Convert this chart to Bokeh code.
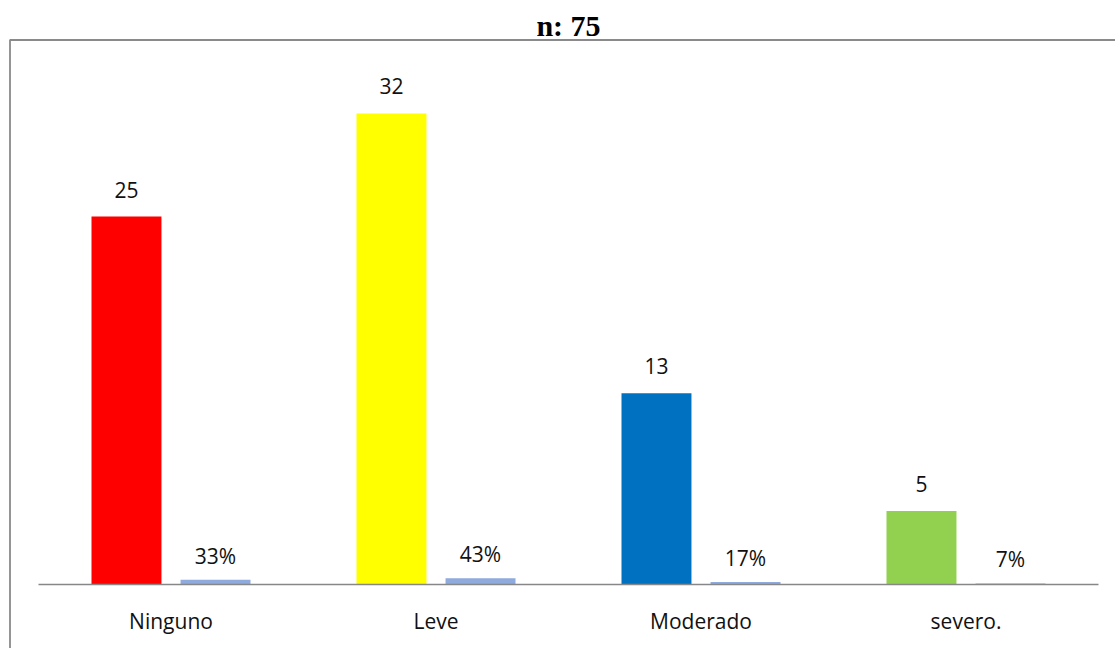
from bokeh.plotting import figure
from bokeh.models import Range1d
from bokeh.embed import file_html
from bokeh.resources import INLINE
from bokeh.core.properties import value

# ---- data ----
categories = ["Ninguno", "Leve", "Moderado", "severo."]
counts = [25, 32, 13, 5]
percents = [0.33, 0.43, 0.17, 0.07]
percent_labels = ["33%", "43%", "17%", "7%"]
bar_colors = ["#FF0000", "#FFFF00", "#0070C0", "#92D050"]
pct_color = "#8FAADC"
title_text = "n: 75"

# ---- layout constants (pixels) ----
W, H = 1115, 648
PX_PER_CAT = 265.0
PX_PER_UNIT = 14.72
LEFT_PAD = 38
RIGHT_PAD = 17
BASE_Y = 584          # distance of the baseline from the top of the canvas
n = len(categories)

x_range = Range1d(-LEFT_PAD / PX_PER_CAT, n + RIGHT_PAD / PX_PER_CAT)
y_range = Range1d(-(H - BASE_Y) / PX_PER_UNIT, BASE_Y / PX_PER_UNIT)

p = figure(width=W, height=H, x_range=x_range, y_range=y_range,
           output_backend="svg", toolbar_location=None,
           min_border=0, min_border_left=0, min_border_right=0,
           min_border_top=0, min_border_bottom=0)
p.axis.visible = False
p.grid.visible = False
p.outline_line_color = None
p.background_fill_color = "white"
p.border_fill_color = "white"

centers = [i + 0.5 for i in range(n)]
OFF = 0.168
BW = 0.264
x_count = [c - OFF for c in centers]
x_pct = [c + OFF for c in centers]

# outer box (left and top edges only visible in the reference)
xl = (9.5 - LEFT_PAD) / PX_PER_CAT
yt = (BASE_Y - 39.5) / PX_PER_UNIT
p.line(x=[x_range.end + 1, xl, xl], y=[yt, yt, y_range.start - 1],
       line_color="#8a8a8a", line_width=1.8)

# bars
p.vbar(x=x_count, top=counts, bottom=0, width=BW, fill_color=bar_colors, line_color=None)
p.vbar(x=x_pct, top=percents, bottom=0, width=BW, fill_color=pct_color, line_color=None)

# category axis line
p.segment(x0=[0], y0=[0], x1=[n], y1=[0], line_color="#878787", line_width=1.6)

FONT = value("Open Sans")
# value labels
p.text(x=x_count, y=counts, text=[str(c) for c in counts], text_align="center",
       text_baseline="middle", y_offset=-27, text_font=FONT,
       text_font_size="21px", text_color="#111111")
p.text(x=x_pct, y=percents, text=percent_labels, text_align="center",
       text_baseline="middle", y_offset=-24, text_font=FONT,
       text_font_size="21px", text_color="#111111")

# category labels
p.text(x=centers, y=[0] * n, text=categories, text_align="center",
       text_baseline="middle", y_offset=36, text_font=FONT,
       text_font_size="21px", text_color="#111111")

# title
p.text(x=[n / 2], y=[0], text=[title_text], text_align="center",
       text_baseline="middle", y_offset=-(BASE_Y - 25),
       text_font=value("Liberation Serif"), text_font_style="bold",
       text_font_size="30px", text_color="#000000")

open("out.html", "w").write(file_html(p, INLINE))
